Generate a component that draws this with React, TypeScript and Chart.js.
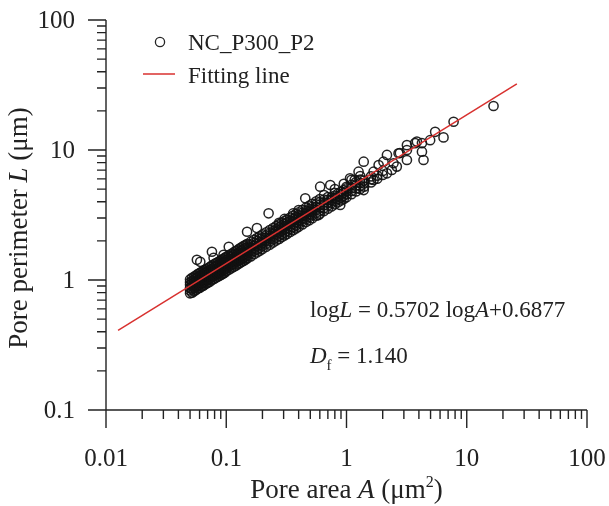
import React, { useEffect, useRef } from "react";
import { Chart, registerables } from "chart.js";

Chart.register(...registerables);

// ---- data ----
const seriesLabel = "NC_P300_P2";
const fitLabel = "Fitting line";

// dense cloud: one pore-area value, several perimeters measured at that area
const cloudArea: number[] = [
  0.05, 0.052, 0.054, 0.056, 0.058, 0.06, 0.062, 0.064, 0.066, 0.068,
  0.07, 0.073, 0.076, 0.079, 0.082, 0.085, 0.088, 0.091, 0.094, 0.097,
  0.1, 0.105, 0.11, 0.115, 0.12, 0.125, 0.13, 0.135, 0.14, 0.145,
  0.15, 0.16, 0.17, 0.18, 0.19, 0.2, 0.215, 0.23, 0.245, 0.26,
  0.275, 0.29, 0.305, 0.32, 0.34, 0.36, 0.38, 0.4, 0.43, 0.46,
  0.49, 0.52, 0.56, 0.6, 0.65, 0.7, 0.75, 0.8, 0.85, 0.9,
  0.95, 1.0, 1.1, 1.2, 1.3, 1.4, 1.6, 1.8, 2.0,
];
const cloudPerimeter: number[][] = [
  [0.79, 0.83, 0.87, 0.92, 0.96, 1.01],
  [0.80, 0.85, 0.90, 0.94, 0.98, 1.04],
  [0.82, 0.87, 0.91, 0.96, 1.01, 1.06],
  [0.84, 0.89, 0.93, 0.98, 1.03, 1.08],
  [0.86, 0.90, 0.95, 1.00, 1.05, 1.11],
  [0.87, 0.92, 0.97, 1.02, 1.07, 1.13],
  [0.89, 0.94, 0.99, 1.04, 1.09, 1.15],
  [0.90, 0.95, 1.01, 1.06, 1.11, 1.17],
  [0.92, 0.97, 1.02, 1.08, 1.13, 1.19],
  [0.94, 0.99, 1.04, 1.09, 1.15, 1.21],
  [0.95, 1.00, 1.06, 1.11, 1.17, 1.23],
  [0.97, 1.03, 1.08, 1.14, 1.19, 1.26],
  [1.00, 1.05, 1.11, 1.16, 1.22, 1.29],
  [1.02, 1.08, 1.13, 1.19, 1.25, 1.32],
  [1.04, 1.10, 1.16, 1.22, 1.28, 1.35],
  [1.06, 1.12, 1.18, 1.24, 1.30, 1.37],
  [1.08, 1.14, 1.20, 1.27, 1.33, 1.40],
  [1.10, 1.17, 1.23, 1.29, 1.35, 1.43],
  [1.12, 1.19, 1.25, 1.31, 1.38, 1.45],
  [1.14, 1.21, 1.27, 1.34, 1.40, 1.48],
  [1.17, 1.23, 1.30, 1.36, 1.43, 1.51],
  [1.20, 1.27, 1.33, 1.40, 1.47, 1.55],
  [1.23, 1.30, 1.37, 1.44, 1.51, 1.59],
  [1.26, 1.33, 1.40, 1.47, 1.55, 1.63],
  [1.29, 1.37, 1.44, 1.51, 1.58, 1.67],
  [1.32, 1.40, 1.47, 1.55, 1.62, 1.71],
  [1.35, 1.43, 1.51, 1.58, 1.66, 1.75],
  [1.38, 1.46, 1.54, 1.62, 1.69, 1.79],
  [1.41, 1.49, 1.57, 1.65, 1.73, 1.83],
  [1.44, 1.52, 1.60, 1.68, 1.77, 1.86],
  [1.47, 1.55, 1.63, 1.72, 1.80, 1.90],
  [1.52, 1.61, 1.69, 1.78, 1.87, 1.97],
  [1.58, 1.67, 1.75, 1.84, 1.93, 2.04],
  [1.63, 1.72, 1.81, 1.90, 1.99, 2.10],
  [1.68, 1.77, 1.87, 1.96, 2.06, 2.17],
  [1.73, 1.83, 1.93, 2.02, 2.12, 2.24],
  [1.80, 1.90, 2.01, 2.11, 2.21, 2.33],
  [1.87, 1.98, 2.08, 2.19, 2.29, 2.42],
  [1.94, 2.05, 2.16, 2.27, 2.38, 2.51],
  [2.01, 2.12, 2.24, 2.35, 2.46, 2.60],
  [2.07, 2.19, 2.31, 2.42, 2.54, 2.68],
  [2.14, 2.26, 2.38, 2.50, 2.62, 2.76],
  [2.20, 2.32, 2.45, 2.57, 2.69, 2.84],
  [2.26, 2.39, 2.51, 2.64, 2.77, 2.92],
  [2.34, 2.47, 2.60, 2.74, 2.87, 3.02],
  [2.42, 2.56, 2.69, 2.83, 2.96, 3.13],
  [2.49, 2.63, 2.77, 2.91, 3.05, 3.22],
  [2.57, 2.72, 2.86, 3.01, 3.15, 3.32],
  [2.68, 2.83, 2.98, 3.13, 3.28, 3.46],
  [2.79, 2.94, 3.10, 3.26, 3.41, 3.60],
  [2.88, 3.05, 3.21, 3.37, 3.53, 3.73],
  [2.99, 3.16, 3.33, 3.49, 3.66, 3.86],
  [3.12, 3.29, 3.47, 3.64, 3.82, 4.03],
  [3.24, 3.42, 3.60, 3.79, 3.97, 4.19],
  [3.39, 3.58, 3.77, 3.96, 4.15],
  [3.54, 3.74, 3.94, 4.14, 4.34],
  [3.68, 3.89, 4.10, 4.31],
  [3.82, 4.03, 4.25, 4.46, 4.68],
  [3.96, 4.18, 4.41, 4.63],
  [4.09, 4.32, 4.55, 4.78],
  [4.21, 4.45, 4.68, 4.92],
  [4.33, 4.58, 4.82, 5.06, 5.21],
  [4.57, 4.83, 5.09, 5.40],
  [4.80, 5.07, 5.34, 5.66],
  [5.02, 5.30, 5.58, 5.92],
  [5.23, 5.53, 5.82],
  [5.63, 5.95, 6.27],
  [6.01, 6.35],
  [6.43, 6.90],
];

// isolated circles read one by one
const outlierArea: number[] = [
  16.7, 7.77, 6.41, 5.46, 4.96, 4.37, 3.72, 3.18, 3.18, 2.71,
  2.62, 2.17, 2.17, 1.85, 1.68, 1.39, 1.26, 1.39, 1.07, 0.887,
  0.733, 0.604, 0.586, 0.454, 0.225, 0.149, 0.105, 0.076, 0.0608, 0.057,
  0.0785, 0.095, 0.18, 4.24, 3.85, 4.24, 3.18, 2.78, 2.46, 2.03,
  2.38, 1.68, 1.17, 0.275, 0.305, 0.36, 0.4, 0.65, 0.8, 0.95,
  1.1, 1.3,
];
const outlierPerimeter: number[] = [
  21.8, 16.5, 12.5, 13.8, 11.9, 8.38, 11.3, 10.9, 8.38, 9.44,
  7.45, 9.16, 6.62, 7.67, 5.88, 8.13, 6.81, 4.92, 6.05, 3.78,
  5.38, 5.22, 3.16, 4.25, 3.26, 2.35, 1.80, 1.65, 1.38, 1.43,
  1.48, 1.56, 2.51, 11.3, 11.6, 9.7, 10.0, 9.48, 7.91, 8.13,
  7.02, 6.81, 5.88, 2.75, 2.95, 3.25, 3.45, 4.50, 5.00, 5.50,
  5.90, 6.30,
];

// fitting line end points as drawn
const fitArea: number[] = [0.0126, 26.1];
const fitPerimeter: number[] = [0.41, 32.2];

const xTickValues: number[] = [0.01, 0.1, 1, 10, 100];
const xTickLabels: string[] = ["0.01", "0.1", "1", "10", "100"];
const yTickValues: number[] = [0.1, 1, 10, 100];
const yTickLabels: string[] = ["0.1", "1", "10", "100"];
const minorSteps: number[] = [2, 3, 4, 5, 6, 7, 8, 9];

// ---- styles ----
const FONT = '"Liberation Serif", "Times New Roman", serif';
const INK = "#222";
const RED = "#d8312f";
const CIRCLE = "rgba(17,17,17,0.92)";

type Seg = { t: string; it?: boolean; size?: number; dy?: number };

function segWidth(ctx: CanvasRenderingContext2D, segs: Seg[], base: number) {
  let w = 0;
  for (const s of segs) {
    ctx.font = `${s.it ? "italic " : ""}${s.size ?? base}px ${FONT}`;
    w += ctx.measureText(s.t).width;
  }
  return w;
}

function drawSegs(ctx: CanvasRenderingContext2D, segs: Seg[], x: number, y: number, base: number) {
  let cx = x;
  for (const s of segs) {
    ctx.font = `${s.it ? "italic " : ""}${s.size ?? base}px ${FONT}`;
    ctx.fillText(s.t, cx, y + (s.dy ?? 0));
    cx += ctx.measureText(s.t).width;
  }
}

const decorPlugin = {
  id: "decor",
  afterDraw(chart: any) {
    const { ctx, chartArea: a } = chart;
    const xs = chart.scales.x;
    const ys = chart.scales.y;
    const MAJOR = 18;
    const MINOR = 9;
    ctx.save();
    ctx.strokeStyle = INK;
    ctx.lineWidth = 1.4;
    ctx.beginPath();
    ctx.moveTo(a.left, a.top);
    ctx.lineTo(a.left, a.bottom);
    ctx.lineTo(a.right, a.bottom);
    xTickValues.forEach((d, i) => {
      const p = xs.getPixelForValue(d);
      ctx.moveTo(p, a.bottom);
      ctx.lineTo(p, a.bottom + MAJOR);
      if (i < xTickValues.length - 1) {
        minorSteps.forEach((m) => {
          const q = xs.getPixelForValue(d * m);
          ctx.moveTo(q, a.bottom);
          ctx.lineTo(q, a.bottom + MINOR);
        });
      }
    });
    yTickValues.forEach((d, i) => {
      const p = ys.getPixelForValue(d);
      ctx.moveTo(a.left - MAJOR, p);
      ctx.lineTo(a.left, p);
      if (i < yTickValues.length - 1) {
        minorSteps.forEach((m) => {
          const q = ys.getPixelForValue(d * m);
          ctx.moveTo(a.left - MINOR, q);
          ctx.lineTo(a.left, q);
        });
      }
    });
    ctx.stroke();

    ctx.fillStyle = INK;

    // tick labels
    ctx.font = `25px ${FONT}`;
    ctx.textAlign = "center";
    ctx.textBaseline = "alphabetic";
    xTickValues.forEach((d, i) => {
      ctx.fillText(xTickLabels[i], xs.getPixelForValue(d), a.bottom + 56);
    });
    ctx.textAlign = "right";
    ctx.textBaseline = "middle";
    yTickValues.forEach((d, i) => {
      ctx.fillText(yTickLabels[i], a.left - 31, ys.getPixelForValue(d) + 1);
    });

    ctx.textBaseline = "alphabetic";
    ctx.textAlign = "left";

    // x title
    const xt: Seg[] = [{ t: "Pore area " }, { t: "A", it: true }, { t: " (\u03bcm" }, { t: "2", size: 16, dy: -11 }, { t: ")" }];
    const xw = segWidth(ctx, xt, 27);
    drawSegs(ctx, xt, (a.left + a.right) / 2 - xw / 2, 498, 27);

    // y title
    const yt: Seg[] = [{ t: "Pore perimeter " }, { t: "L", it: true }, { t: " (\u03bcm)" }];
    const yw = segWidth(ctx, yt, 27);
    ctx.save();
    ctx.translate(27, 228);
    ctx.rotate(-Math.PI / 2);
    drawSegs(ctx, yt, -yw / 2, 0, 27);
    ctx.restore();

    // legend
    ctx.strokeStyle = CIRCLE;
    ctx.lineWidth = 1.3;
    ctx.beginPath();
    ctx.arc(160, 42, 4.6, 0, Math.PI * 2);
    ctx.stroke();
    ctx.strokeStyle = RED;
    ctx.lineWidth = 1.5;
    ctx.beginPath();
    ctx.moveTo(143, 74);
    ctx.lineTo(175, 74);
    ctx.stroke();
    drawSegs(ctx, [{ t: seriesLabel }], 188, 50, 23);
    drawSegs(ctx, [{ t: fitLabel }], 188, 83, 23);

    // annotations
    drawSegs(
      ctx,
      [{ t: "log" }, { t: "L", it: true }, { t: " = 0.5702 log" }, { t: "A", it: true }, { t: "+0.6877" }],
      310, 317, 23
    );
    drawSegs(ctx, [{ t: "D", it: true }, { t: "f", size: 15, dy: 7 }, { t: " = 1.140" }], 310, 363, 23);
    ctx.restore();
  },
};

export default function App() {
  const ref = useRef<HTMLCanvasElement | null>(null);

  useEffect(() => {
    if (!ref.current) return;
    const scatterData: { x: number; y: number }[] = [];
    cloudArea.forEach((a, i) => cloudPerimeter[i].forEach((l) => scatterData.push({ x: a, y: l })));
    outlierArea.forEach((a, i) => scatterData.push({ x: a, y: outlierPerimeter[i] }));
    const fitData = fitArea.map((a, i) => ({ x: a, y: fitPerimeter[i] }));

    const chart = new Chart(ref.current, {
      type: "scatter",
      data: {
        datasets: [
          {
            label: fitLabel,
            type: "line",
            data: fitData,
            borderColor: RED,
            borderWidth: 1.5,
            pointRadius: 0,
            fill: false,
            showLine: true,
            order: 0,
          } as any,
          {
            label: seriesLabel,
            data: scatterData,
            pointStyle: "circle",
            pointRadius: 4.6,
            pointBackgroundColor: "rgba(0,0,0,0)",
            pointBorderColor: CIRCLE,
            pointBorderWidth: 1.5,
            order: 1,
          } as any,
        ],
      },
      options: {
        animation: false,
        responsive: true,
        maintainAspectRatio: false,
        layout: { padding: { left: 0, top: 20, right: 22, bottom: 0 } },
        plugins: { legend: { display: false }, tooltip: { enabled: false } },
        events: [],
        scales: {
          x: {
            type: "logarithmic",
            min: 0.01,
            max: 100,
            position: "bottom",
            afterBuildTicks: (s: any) => {
              s.ticks = xTickValues.map((v) => ({ value: v }));
            },
            afterFit: (s: any) => {
              s.height = 96;
            },
            ticks: { display: false, padding: 0 },
            grid: { display: false, drawTicks: false },
            border: { display: false },
          },
          y: {
            type: "logarithmic",
            min: 0.1,
            max: 100,
            position: "left",
            afterBuildTicks: (s: any) => {
              s.ticks = yTickValues.map((v) => ({ value: v }));
            },
            afterFit: (s: any) => {
              s.width = 106;
            },
            ticks: { display: false, padding: 0 },
            grid: { display: false, drawTicks: false },
            border: { display: false },
          },
        },
      } as any,
      plugins: [decorPlugin],
    });
    return () => chart.destroy();
  }, []);

  return (
    <div style={{ position: "fixed", left: 0, top: 0, width: 609, height: 506, background: "#fff" }}>
      <canvas ref={ref} />
    </div>
  );
}
